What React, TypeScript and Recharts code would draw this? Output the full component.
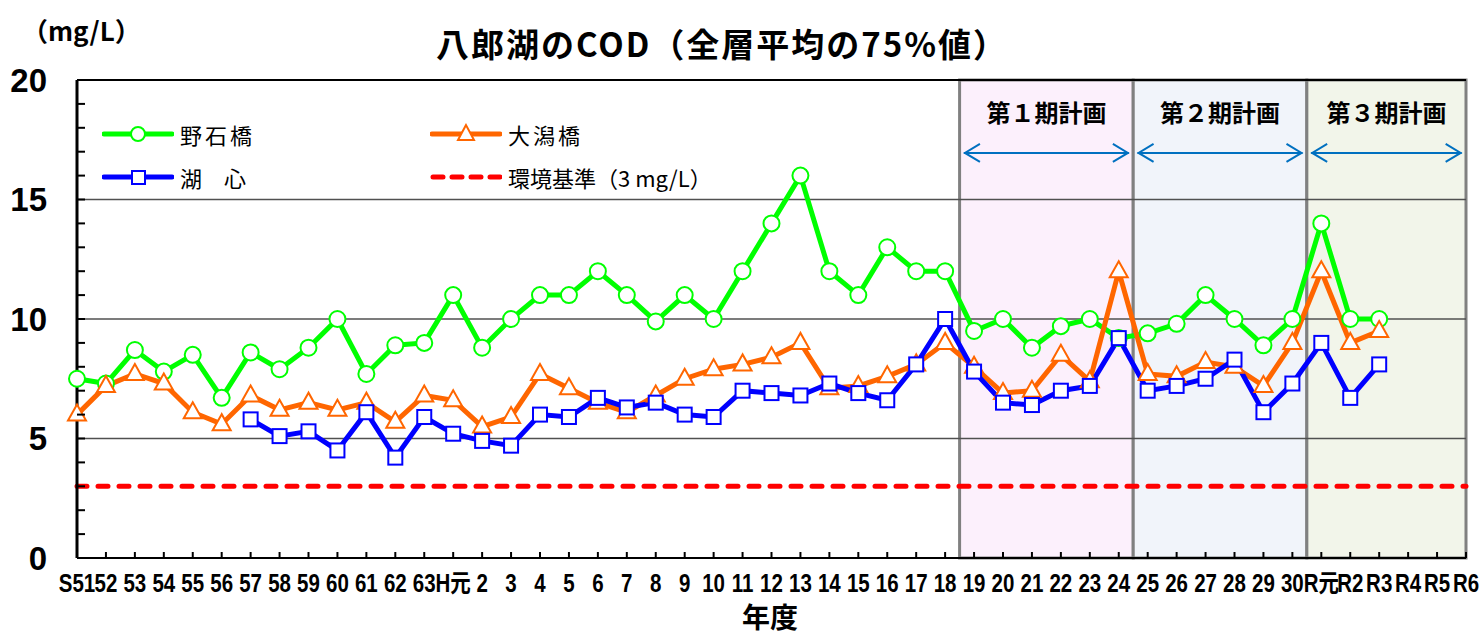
import React from 'react';
import { LineChart, Line, XAxis, YAxis, ReferenceArea, ReferenceLine, Legend } from 'recharts';

const categories = [
  'S51', '52', '53', '54', '55', '56', '57', '58', '59', '60', '61', '62', '63',
  'H元', '2', '3', '4', '5', '6', '7', '8', '9', '10', '11', '12', '13', '14', '15', '16', '17', '18',
  '19', '20', '21', '22', '23', '24', '25', '26', '27', '28', '29', '30',
  'R元', 'R2', 'R3', 'R4', 'R5', 'R6',
];

const noishiValues = [
  7.5, 7.3, 8.7, 7.8, 8.5, 6.7, 8.6, 7.9, 8.8, 10.0, 7.7, 8.9, 9.0,
  11.0, 8.8, 10.0, 11.0, 11.0, 12.0, 11.0, 9.9, 11.0, 10.0, 12.0, 14.0, 16.0, 12.0, 11.0, 13.0, 12.0, 12.0,
  9.5, 10.0, 8.8, 9.7, 10.0, 9.2,
  9.4, 9.8, 11.0, 10.0, 8.9, 10.0,
  14.0, 10.0, 10.0, null, null, null,
];

const ogataValues = [
  6.0, 7.2, 7.7, 7.3, 6.1, 5.6, 6.8, 6.2, 6.5, 6.2, 6.5, 5.7, 6.8,
  6.6, 5.5, 5.9, 7.7, 7.1, 6.5, 6.1, 6.8, 7.5, 7.9, 8.1, 8.4, 9.0, 7.1, 7.2, 7.6, 8.1, 9.0,
  8.0, 6.9, 7.0, 8.5, 7.4, 12.0,
  7.7, 7.6, 8.2, 8.0, 7.2, 9.0,
  12.0, 9.0, 9.5, null, null, null,
];

const koshinValues = [
  null, null, null, null, null, null, 5.8, 5.1, 5.3, 4.5, 6.1, 4.2, 5.9,
  5.2, 4.9, 4.7, 6.0, 5.9, 6.7, 6.3, 6.5, 6.0, 5.9, 7.0, 6.9, 6.8, 7.3, 6.9, 6.6, 8.1, 10.0,
  7.8, 6.5, 6.4, 7.0, 7.2, 9.2,
  7.0, 7.2, 7.5, 8.3, 6.1, 7.3,
  9.0, 6.7, 8.1, null, null, null,
];

const yTicks = [0, 1, 2, 3, 4, 5, 6, 7, 8, 9, 10, 11, 12, 13, 14, 15, 16, 17, 18, 19, 20];
const yLabelTicks = [0, 5, 10, 15, 20];
const gridValues = [5, 10, 15];
const topValue = 20;
const standardValue = 3;

const periodLabels = ['第１期計画', '第２期計画', '第３期計画'];
const periodStarts = [30.5, 36.5, 42.5];
const periodEnds = [36.5, 42.5, 48];
const periodFills = ['#FCF0FC', '#F1F4FA', '#F2F5EA'];
const arrowLevel = 16.95;
const arrowInset = 0.15;

const seriesNames = ['野石橋', '大潟橋', '湖　心', '環境基準（3 mg/L）'];
const titleText = '八郎湖のCOD（全層平均の75%値）';
const unitText = '（mg/L）';
const xTitleText = '年度';

const GREEN = '#00FF00';
const ORANGE = '#FF6600';
const BLUE = '#0000FF';
const RED = '#FF0000';
const ARROW = '#0070C0';
const CJK = "'Noto Sans CJK JP', 'Liberation Sans', sans-serif";
const SANS = "'Liberation Sans', Arial, 'Noto Sans CJK JP', sans-serif";

const data = categories.map((c, i) => ({
  i,
  name: c,
  noishi: noishiValues[i],
  ogata: ogataValues[i],
  koshin: koshinValues[i],
}));

const xTickValues = categories.map((_, i) => i);

const XTick = (props: any) => {
  const { x, y, payload } = props;
  const label = categories[payload.value];
  return (
    <g>
      <line x1={x} y1={y} x2={x} y2={y - 6} stroke="#000" strokeWidth={2} />
      <text
        transform={`translate(${x},${y + 34}) scale(0.82,1)`}
        x={0}
        y={0}
        textAnchor="middle"
        fontFamily={SANS}
        fontWeight="bold"
        fontSize={25}
        fill="#000"
      >
        {label}
      </text>
    </g>
  );
};

const YTick = (props: any) => {
  const { x, y, payload } = props;
  const v = payload.value;
  const showLabel = yLabelTicks.includes(v);
  return (
    <g>
      {v !== 0 && v !== 20 && <line x1={x} y1={y} x2={x + 8} y2={y} stroke="#000" strokeWidth={2} />}
      {showLabel && (
        <text x={x - 30} y={y} dy="0.36em" textAnchor="end" fontFamily={SANS} fontWeight="bold" fontSize={33} fill="#000">
          {v}
        </text>
      )}
    </g>
  );
};

const CircleDot = (props: any) => {
  const { cx, cy, value, index } = props;
  if (value == null || cx == null || cy == null) return <g key={`c${index}`} />;
  return <circle key={`c${index}`} cx={cx} cy={cy} r={8} fill="#fff" stroke={GREEN} strokeWidth={2} />;
};

const TriangleDot = (props: any) => {
  const { cx, cy, value, index } = props;
  if (value == null || cx == null || cy == null) return <g key={`t${index}`} />;
  return (
    <polygon
      key={`t${index}`}
      points={`${cx},${cy - 10} ${cx - 9},${cy + 6} ${cx + 9},${cy + 6}`}
      fill="#fff"
      stroke={ORANGE}
      strokeWidth={2}
    />
  );
};

const SquareDot = (props: any) => {
  const { cx, cy, value, index } = props;
  if (value == null || cx == null || cy == null) return <g key={`s${index}`} />;
  return <rect key={`s${index}`} x={cx - 7} y={cy - 7} width={14} height={14} fill="#fff" stroke={BLUE} strokeWidth={2} />;
};

const ArrowShape = (props: any) => {
  const { x1, y1, x2, y2 } = props;
  if (x1 == null) return <g />;
  return (
    <g>
      <line x1={x1} y1={y1} x2={x2} y2={y2} stroke={ARROW} strokeWidth={2} />
      <polyline points={`${x1 + 16},${y1 - 9} ${x1 + 1},${y1} ${x1 + 16},${y1 + 9}`} fill="none" stroke={ARROW} strokeWidth={2} />
      <polyline points={`${x2 - 16},${y2 - 9} ${x2 - 1},${y2} ${x2 - 16},${y2 + 9}`} fill="none" stroke={ARROW} strokeWidth={2} />
    </g>
  );
};

const periodLabel = (text: string) => (props: any) => {
  const vb = props.viewBox || {};
  return (
    <text
      x={vb.x + vb.width / 2}
      y={vb.y + 42}
      textAnchor="middle"
      fontFamily={CJK}
      fontWeight="bold"
      fontSize={24}
      fill="#000"
    >
      {text}
    </text>
  );
};

const LegendMarkerLine = ({ kind }: { kind: string }) => {
  if (kind === 'green')
    return (
      <svg width={72} height={24}>
        <line x1={2} y1={12} x2={70} y2={12} stroke={GREEN} strokeWidth={5} strokeLinecap="round" />
        <circle cx={36} cy={12} r={7} fill="#fff" stroke={GREEN} strokeWidth={2} />
      </svg>
    );
  if (kind === 'orange')
    return (
      <svg width={72} height={24}>
        <line x1={2} y1={12} x2={70} y2={12} stroke={ORANGE} strokeWidth={5} strokeLinecap="round" />
        <polygon points="36,3 28,18 44,18" fill="#fff" stroke={ORANGE} strokeWidth={2} />
      </svg>
    );
  if (kind === 'blue')
    return (
      <svg width={72} height={24}>
        <line x1={2} y1={12} x2={70} y2={12} stroke={BLUE} strokeWidth={5} strokeLinecap="round" />
        <rect x={30} y={6} width={13} height={13} fill="#fff" stroke={BLUE} strokeWidth={2} />
      </svg>
    );
  return (
    <svg width={72} height={24}>
      <line x1={3} y1={12} x2={70} y2={12} stroke={RED} strokeWidth={5} strokeDasharray="10 9" strokeLinecap="round" />
    </svg>
  );
};

const legendItems = [
  { kind: 'green', name: seriesNames[0], left: 2, top: 2, spacing: 3 },
  { kind: 'orange', name: seriesNames[1], left: 330, top: 2, spacing: 3 },
  { kind: 'blue', name: seriesNames[2], left: 2, top: 45, spacing: 0 },
  { kind: 'red', name: seriesNames[3], left: 330, top: 45, spacing: 0 },
];

const renderLegend = () => (
  <div style={{ position: 'relative', width: 660, height: 80, fontFamily: CJK }}>
    {legendItems.map((it) => (
      <div key={it.kind} style={{ position: 'absolute', left: it.left, top: it.top, display: 'flex', alignItems: 'center', height: 24 }}>
        <LegendMarkerLine kind={it.kind} />
        <span style={{ marginLeft: 6, fontSize: 22, lineHeight: '24px', letterSpacing: it.spacing, color: '#000', whiteSpace: 'nowrap' }}>
          {it.name}
        </span>
      </div>
    ))}
  </div>
);

export default function App() {
  return (
    <div style={{ position: 'absolute', left: 0, top: 0, width: 1482, height: 635, background: '#fff', overflow: 'hidden' }}>
      <div style={{ position: 'absolute', left: 372, top: 24, width: 700, textAlign: 'center', fontFamily: CJK, fontWeight: 'bold', fontSize: 33, letterSpacing: 2, lineHeight: '38px', color: '#000', whiteSpace: 'nowrap' }}>
        {titleText}
      </div>
      <div style={{ position: 'absolute', left: 22, top: 14, fontFamily: CJK, fontWeight: 'bold', fontSize: 26, lineHeight: '32px', color: '#000', whiteSpace: 'nowrap' }}>
        {unitText}
      </div>
      <div style={{ position: 'absolute', left: 670, top: 601, width: 200, textAlign: 'center', fontFamily: CJK, fontWeight: 'bold', fontSize: 28, lineHeight: '30px', color: '#000' }}>
        {xTitleText}
      </div>
      <div style={{ position: 'absolute', left: 0, top: 0 }}>
        <LineChart width={1482} height={635} data={data} margin={{ top: 80, right: 16, bottom: 0, left: 0 }}>
          {periodLabels.map((label, k) => (
            <ReferenceArea
              key={`area${k}`}
              x1={periodStarts[k]}
              x2={periodEnds[k]}
              y1={0}
              y2={topValue}
              fill={periodFills[k]}
              fillOpacity={1}
              stroke="#808080"
              strokeWidth={3}
              label={periodLabel(label)}
            />
          ))}
          {gridValues.map((g) => (
            <ReferenceLine key={`grid${g}`} y={g} stroke="#505050" strokeWidth={1.5} />
          ))}
          <ReferenceLine y={topValue} stroke="#000" strokeWidth={2} />
          {periodLabels.map((label, k) => (
            <ReferenceLine
              key={`arrow${k}`}
              segment={[
                { x: periodStarts[k] + arrowInset, y: arrowLevel },
                { x: periodEnds[k] - arrowInset, y: arrowLevel },
              ]}
              stroke={ARROW}
              shape={ArrowShape}
            />
          ))}
          <ReferenceLine y={standardValue} stroke={RED} strokeWidth={5} strokeDasharray="10 11" strokeLinecap="round" />
          <XAxis
            dataKey="i"
            type="number"
            domain={[0, 48]}
            ticks={xTickValues}
            interval={0}
            tick={XTick}
            tickLine={false}
            tickSize={0}
            tickMargin={0}
            height={77}
            axisLine={{ stroke: '#000', strokeWidth: 2 }}
            allowDecimals={false}
          />
          <YAxis
            type="number"
            domain={[0, 20]}
            ticks={yTicks}
            interval={0}
            tick={YTick}
            tickLine={false}
            tickSize={0}
            tickMargin={0}
            width={77}
            axisLine={{ stroke: '#000', strokeWidth: 3 }}
          />
          <Legend
            layout="horizontal"
            verticalAlign="middle"
            align="center"
            content={renderLegend}
            wrapperStyle={{ left: 100, top: 120, width: 660, height: 80 }}
          />
          <Line type="linear" dataKey="noishi" name={seriesNames[0]} stroke={GREEN} strokeWidth={5} dot={CircleDot} activeDot={false} isAnimationActive={false} connectNulls={false} />
          <Line type="linear" dataKey="ogata" name={seriesNames[1]} stroke={ORANGE} strokeWidth={5} dot={TriangleDot} activeDot={false} isAnimationActive={false} connectNulls={false} />
          <Line type="linear" dataKey="koshin" name={seriesNames[2]} stroke={BLUE} strokeWidth={5} dot={SquareDot} activeDot={false} isAnimationActive={false} connectNulls={false} />
        </LineChart>
      </div>
    </div>
  );
}
